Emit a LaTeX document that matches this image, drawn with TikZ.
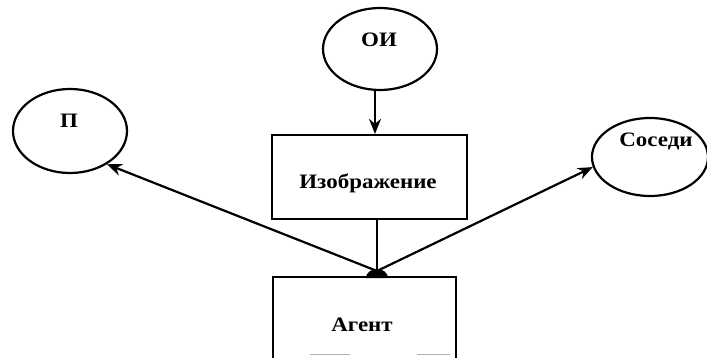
\documentclass[tikz,border=0pt]{standalone}
\usepackage{fontspec}
\setmainfont{Liberation Serif}[FakeStretch=1.12]
\usetikzlibrary{shapes.geometric,arrows.meta}
\begin{document}
\begin{tikzpicture}[x=1pt,y=-1pt,
  line width=2.2pt,
  oval/.style={draw,ellipse,inner sep=0pt},
  boxnode/.style={draw,rectangle,inner sep=0pt},
  lbl/.style={font=\bfseries\fontsize{20.5}{24}\selectfont,anchor=base,inner sep=0pt},
  arr/.style={-{Stealth[length=15pt,width=12pt]}}]
\useasboundingbox (0,0) rectangle (707,358);
\node[oval,minimum width=114pt,minimum height=82pt] (oi) at (380,49) {};
\node[lbl] at (379,47) {ОИ};
\node[oval,minimum width=114pt,minimum height=84pt] (p) at (70,131) {};
\node[lbl] at (69,128) {П};
\node[oval,minimum width=116pt,minimum height=78pt] (s) at (650,157) {};
\node[lbl] at (656,147) {Соседи};
\node[boxnode,minimum width=195pt,minimum height=84pt] (img) at (369.5,177) {};
\node[lbl] at (368,189) {Изображение};
\coordinate (agtl) at (273,277);
\coordinate (agtr) at (456,277);
\coordinate (agbl) at (273,358);
\coordinate (agbr) at (456,358);
\draw (agbl) -- (agtl) -- (agtr) -- (agbr);
\draw[gray!60,line width=1pt] (310,354) -- (350,354);
\draw[gray!60,line width=1pt] (417,354) -- (450,354);
\node[lbl] (ag) at (362,331) {Агент};
\coordinate (j) at (377,271);
\fill (366,278) arc[start angle=180,end angle=0,x radius=11pt,y radius=9pt] -- cycle;
\coordinate (oib) at (oi.south -| 375,0);
\draw[arr] (oi.south -| oib) -- (img.north -| oib);
\coordinate (imgb) at (img.south -| j);
\draw (imgb) -- (j);
\draw[arr] (j) -- (p.-42);
\draw[arr] (j) -- (s.190);
\end{tikzpicture}
\end{document}
